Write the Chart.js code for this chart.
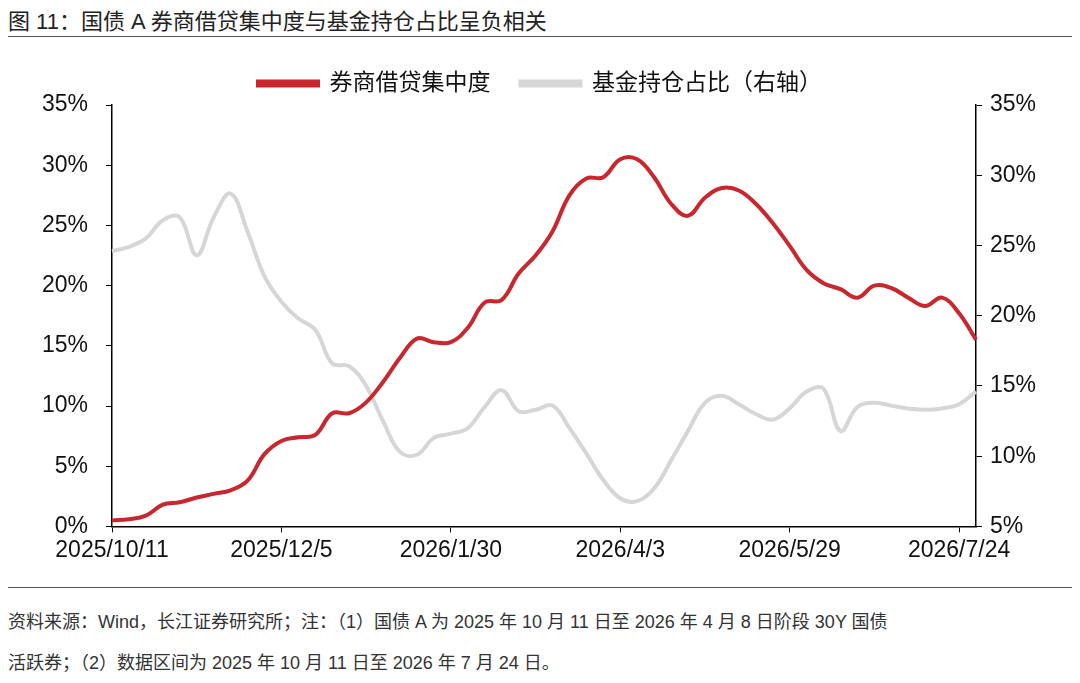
<!DOCTYPE html>
<html>
<head>
<meta charset="utf-8">
<script src="https://cdn.jsdelivr.net/npm/chart.js@4"></script>
<style>
  body { margin: 0; width: 1080px; height: 683px; background: #fff; font-family: "Liberation Sans", "Noto Sans CJK SC", sans-serif; }
  #title { position: absolute; left: 8px; top: 3px; font-size: 22px; color: #222; }
  #topline { position: absolute; left: 8px; right: 8px; top: 36px; border-top: 1px solid #555; }
  #wrap { position: absolute; left: 0; top: 42px; width: 1080px; height: 540px; }
  #botline { position: absolute; left: 8px; right: 8px; top: 587px; border-top: 1px solid #555; }
  #note { position: absolute; left: 8px; top: 602px; font-size: 18px; color: #333; line-height: 41px; }
</style>
</head>
<body>
<div id="title">图 11：国债 A 券商借贷集中度与基金持仓占比呈负相关</div>
<div id="topline"></div>
<div id="wrap"><canvas id="chart"></canvas></div>
<div id="botline"></div>
<div id="note">资料来源：Wind，长江证券研究所；注：（1）国债 A 为 2025 年 10 月 11 日至 2026 年 4 月 8 日阶段 30Y 国债<br>活跃券；（2）数据区间为 2025 年 10 月 11 日至 2026 年 7 月 24 日。</div>
<script>
const tickLabels = ['2025/10/11', '2025/12/5', '2026/1/30', '2026/4/3', '2026/5/29', '2026/7/24'];
const tickEvery = 10;

const concentration = [0.5, 0.6, 0.9, 1.8, 2.0, 2.4, 2.7, 3.0, 3.8, 6.0,
  7.1, 7.4, 7.6, 9.4, 9.4, 10.3, 12.0, 14.0, 15.6, 15.3,
  15.3, 16.5, 18.6, 18.8, 21.0, 22.5, 24.5, 27.5, 28.9, 29.0,
  30.5, 30.5, 29.0, 26.8, 25.8, 27.3, 28.1, 27.9, 26.8, 25.2,
  23.3, 21.3, 20.2, 19.7, 19.0, 20.0, 19.8, 19.0, 18.3, 19.0,
  17.7, 15.5];

const fundShare = [24.6, 24.9, 25.5, 26.8, 27.0, 24.3, 27.0, 28.7, 26.0, 22.8,
  21.0, 19.8, 19.0, 16.6, 16.4, 15.0, 12.5, 10.3, 10.1, 11.3,
  11.6, 12.0, 13.5, 14.7, 13.2, 13.3, 13.6, 12.0, 10.2, 8.3,
  7.0, 6.8, 7.7, 9.7, 11.8, 13.8, 14.3, 13.7, 13.0, 12.6,
  13.4, 14.6, 14.8, 11.8, 13.5, 13.8, 13.6, 13.4, 13.3, 13.4,
  13.7, 14.6];

const labels = concentration.map((v, i) => i % tickEvery === 0 ? tickLabels[i / tickEvery] : '');

const font = { family: '"Liberation Sans", "Noto Sans CJK SC", sans-serif', size: 23 };

new Chart(document.getElementById('chart'), {
  type: 'line',
  data: {
    labels,
    datasets: [
      { label: '券商借贷集中度', data: concentration, borderColor: '#c8282d', backgroundColor: '#c8282d',
        borderWidth: 4, pointRadius: 0, tension: 0.4, yAxisID: 'y' },
      { label: '基金持仓占比（右轴）', data: fundShare, borderColor: '#d6d6d6', backgroundColor: '#d6d6d6',
        borderWidth: 4, pointRadius: 0, tension: 0.4, yAxisID: 'y1' }
    ]
  },
  options: {
    responsive: true,
    maintainAspectRatio: false,
    animation: false,
    layout: { padding: { left: 14, right: 14, top: 0, bottom: 14 } },
    plugins: {
      legend: {
        labels: { font: { ...font, size: 23 }, color: '#111', boxWidth: 60, boxHeight: 4, padding: 30 },
        afterFit: l => { l.height += 22; }
      },
      tooltip: { enabled: false }
    },
    scales: {
      x: {
        offset: false,
        border: { color: '#000', width: 1.5 },
        grid: { drawOnChartArea: false, tickLength: 6,
          color: ctx => ctx.index % tickEvery === 0 ? '#000' : 'rgba(0,0,0,0)' },
        ticks: { autoSkip: false, maxRotation: 0, font, color: '#111', padding: 4 }
      },
      y: {
        position: 'left', min: 0, max: 35,
        border: { color: '#000', width: 1.5 },
        grid: { drawOnChartArea: false, tickLength: 6, color: '#000' },
        ticks: { stepSize: 5, font, color: '#111', padding: 18, callback: v => v + '%' },
        afterFit: s => { s.width = 98; }
      },
      y1: {
        position: 'right', min: 5, max: 35,
        border: { color: '#000', width: 1.5 },
        grid: { drawOnChartArea: false, tickLength: 6, color: '#000' },
        ticks: { stepSize: 5, font, color: '#111', padding: 8, callback: v => v + '%' },
        afterFit: s => { s.width = 90; }
      }
    }
  }
});
</script>
</body>
</html>
